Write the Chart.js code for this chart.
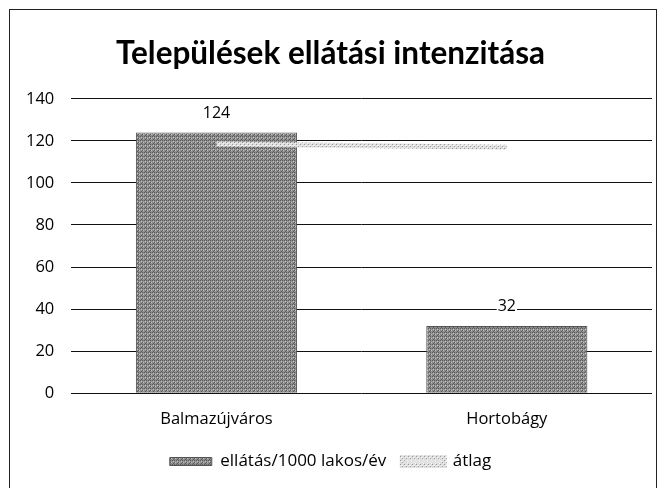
<!DOCTYPE html>
<html>
<head>
<meta charset="utf-8">
<script src="https://cdn.jsdelivr.net/npm/chart.js@4"></script>
<style>
  html, body { margin: 0; padding: 0; background: #fff; }
  #wrap { position: relative; width: 667px; height: 488px; }
  #frame { position: absolute; left: 9px; top: 9px; width: 648px; height: 490px; border: 1px solid #222; box-sizing: border-box; pointer-events: none; }
</style>
</head>
<body>
<div id="wrap">
  <canvas id="grafico" width="667" height="488"></canvas>
  <div id="frame"></div>
</div>
<script>
const telepulesek = ['Balmazújváros', 'Hortobágy'];
const ellatas = [124, 32];
const atlag = [118.5, 117];
const yTicks = [0, 20, 40, 60, 80, 100, 120, 140];

const betu = '"Open Sans", Lato, sans-serif';

// szürke, pontozott minta az oszlopokhoz
function mintaOszlop() {
    const c = document.createElement('canvas');
    c.width = 4; c.height = 4;
    const g = c.getContext('2d');
    g.fillStyle = '#8e8e8e';
    g.fillRect(0, 0, 4, 4);
    g.fillStyle = '#5c5c5c';
    g.fillRect(0, 0, 1, 1); g.fillRect(2, 2, 1, 1);
    g.fillRect(2, 0, 1, 1); g.fillRect(1, 3, 1, 1);
    g.fillStyle = '#c4c4c4';
    g.fillRect(1, 1, 1, 1); g.fillRect(3, 2, 1, 1);
    return g.createPattern(c, 'repeat');
}

// világos, sraffozott minta az átlag vonalához
function mintaVonal() {
    const c = document.createElement('canvas');
    c.width = 4; c.height = 4;
    const g = c.getContext('2d');
    g.fillStyle = '#dcdcdc';
    g.fillRect(0, 0, 4, 4);
    g.fillStyle = '#9a9a9a';
    g.fillRect(0, 0, 1, 1); g.fillRect(2, 2, 1, 1);
    g.fillStyle = '#f4f4f4';
    g.fillRect(1, 1, 2, 1); g.fillRect(3, 3, 1, 1);
    return g.createPattern(c, 'repeat');
}

const feliratok = {
    id: 'feliratok',
    afterDatasetsDraw(chart) {
        const ctx = chart.ctx;
        const meta = chart.getDatasetMeta(0);
        ctx.save();
        ctx.font = '16px ' + betu;
        ctx.textAlign = 'center';
        ctx.textBaseline = 'middle';
        meta.data.forEach((bar, i) => {
            const label = String(ellatas[i]);
            const w = ctx.measureText(label).width;
            const y = bar.y - 19;
            ctx.fillStyle = '#fff';
            ctx.fillRect(bar.x - w / 2 - 1, y - 8, w + 2, 16);
            ctx.fillStyle = '#000';
            ctx.fillText(label, bar.x, y);
        });
        ctx.restore();
    }
};

const ctx = document.getElementById('grafico').getContext('2d');
new Chart(ctx, {
    type: 'bar',
    data: {
        labels: telepulesek,
        datasets: [{
            type: 'bar',
            label: 'ellátás/1000 lakos/év',
            data: ellatas,
            backgroundColor: mintaOszlop(),
            borderColor: '#555',
            borderWidth: 1,
            categoryPercentage: 0.555,
            barPercentage: 1,
            order: 2
        }, {
            type: 'line',
            label: 'átlag',
            data: atlag,
            borderColor: mintaVonal(),
            backgroundColor: '#e4e4e4',
            borderWidth: 5,
            pointRadius: 0,
            order: 1
        }]
    },
    options: {
        responsive: false,
        animation: false,
        layout: { padding: { left: 9, right: 15, top: 20, bottom: 8 } },
        plugins: {
            title: {
                display: true,
                text: 'Települések ellátási intenzitása',
                color: '#000',
                font: { family: 'Lato, "Open Sans", sans-serif', size: 31.5, weight: 'bold' },
                padding: { top: 15, bottom: 26 }
            },
            legend: {
                position: 'bottom',
                labels: {
                    color: '#000',
                    font: { family: betu, size: 17 },
                    boxWidth: 42,
                    boxHeight: 8,
                    padding: 16,
                    sort: (a, b) => a.datasetIndex - b.datasetIndex
                }
            },
            tooltip: { enabled: false }
        },
        scales: {
            x: {
                grid: { display: false },
                border: { display: false },
                ticks: {
                    color: '#000',
                    font: { family: betu, size: 16.5 },
                    padding: 8
                }
            },
            y: {
                min: 0,
                max: 140,
                afterBuildTicks(axis) { axis.ticks = yTicks.map(v => ({ value: v })); },
                grid: { color: '#111', lineWidth: 1, drawTicks: false },
                border: { display: false },
                ticks: {
                    color: '#000',
                    font: { family: betu, size: 16.5 },
                    padding: 17
                }
            }
        }
    },
    plugins: [feliratok]
});
</script>
</body>
</html>
